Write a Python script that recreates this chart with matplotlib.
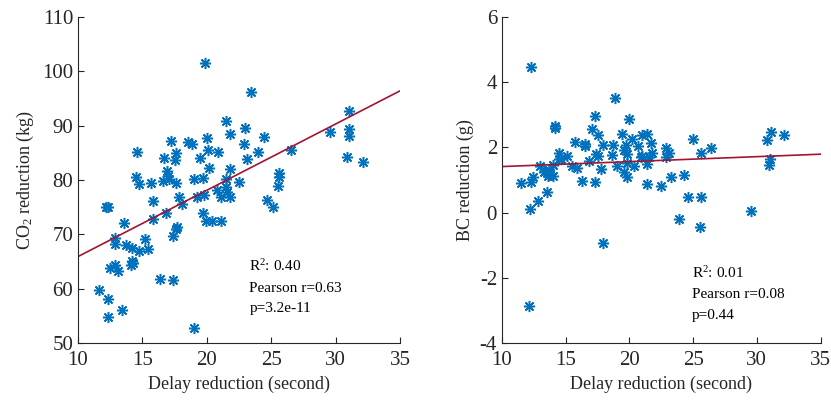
import numpy as np
import matplotlib
matplotlib.use("Agg")
import matplotlib.pyplot as plt

plt.rcParams['font.family'] = ['Liberation Serif', 'DejaVu Serif']
plt.rcParams['mathtext.fontset'] = 'custom'
plt.rcParams['mathtext.rm'] = 'Liberation Serif'
plt.rcParams['mathtext.it'] = 'Liberation Serif:italic'
plt.rcParams['axes.unicode_minus'] = False

# CO2 panel: delay reduction (s) vs CO2 reduction (kg)
delay_co2 = [19.86, 23.4, 31.0, 21.5, 23.0, 31.0, 29.6, 21.8, 24.4, 20.0,
             17.2, 31.0, 18.5, 18.85, 22.9, 26.5, 20.1, 14.6, 20.9, 24.0,
             17.6, 16.7, 19.5, 17.5, 23.1, 30.9, 32.1, 20.2, 21.8, 16.9,
             25.6, 17.0, 14.5, 25.6, 19.7, 17.1, 21.5, 19.0, 16.6, 15.7,
             22.5, 14.7, 17.6, 25.5, 21.5, 20.8, 21.6, 19.8, 21.1, 21.8,
             17.85, 19.2, 24.7, 15.8, 18.1, 25.1, 12.3, 12.2, 16.8, 19.7,
             15.8, 19.9, 20.4, 21.1, 13.6, 17.7, 17.6, 17.4, 12.9, 15.2,
             12.9, 13.7, 14.2, 14.7, 15.4, 14.3, 14.1, 12.9, 12.5, 13.1,
             16.4, 17.4, 11.6, 12.3, 13.4, 12.3, 19.0, 14.2]
co2 = [101.5, 96.1, 92.7, 90.9, 89.5, 89.4, 88.8, 88.4, 87.9, 87.7,
       87.2, 88.0, 87.0, 86.7, 86.6, 85.5, 85.5, 85.2, 85.2, 85.2,
       85.0, 84.1, 84.1, 83.7, 83.9, 84.2, 83.3, 82.2, 82.0, 81.6,
       81.3, 80.7, 80.6, 80.6, 80.4, 80.1, 80.2, 80.2, 79.8, 79.5,
       79.6, 79.3, 79.5, 78.9, 78.7, 78.2, 77.8, 77.2, 76.9, 76.9,
       76.9, 76.9, 76.3, 76.1, 75.6, 75.0, 75.1, 75.0, 74.0, 73.9,
       72.8, 72.5, 72.5, 72.5, 72.0, 71.3, 71.0, 69.6, 69.3, 69.1,
       68.2, 68.0, 67.5, 67.0, 67.2, 64.7, 64.3, 64.3, 63.8, 63.2,
       61.8, 61.6, 59.8, 58.1, 56.1, 54.8, 52.8, 65.0]

# BC panel: delay reduction (s) vs BC reduction (g)
delay_bc = [11.5, 12.3, 12.3, 12.4, 12.2, 12.1, 12.8, 13.0, 13.3, 13.7,
            13.6, 14.0, 13.5, 14.0, 14.2, 14.2, 14.5, 14.5, 15.1, 14.6,
            15.5, 15.9, 15.7, 16.5, 16.5, 16.3, 16.85, 17.1, 17.3, 17.3,
            17.4, 17.5, 17.5, 17.8, 17.9, 17.9, 18.6, 18.7, 18.9, 19.0,
            19.4, 19.6, 19.8, 19.6, 19.8, 19.7, 20.0, 20.2, 20.4, 20.7,
            20.9, 21.0, 21.0, 21.4, 21.4, 21.4, 21.5, 21.7, 21.75, 22.5,
            22.9, 23.1, 22.85, 23.3, 23.9, 24.3, 24.6, 25.0, 25.6, 25.6,
            25.5, 26.4, 29.55, 30.8, 30.95, 31.0, 31.1, 32.1, 19.8, 13.7]
bc = [0.90, 4.45, 0.93, 1.08, 0.10, -2.87, 0.35, 1.42, 1.23, 1.23,
      1.12, 1.12, 0.62, 1.47, 2.64, 2.58, 1.84, 1.65, 1.73, 1.63,
      1.42, 1.36, 2.15, 2.09, 2.03, 0.96, 1.58, 2.57, 2.96, 0.93,
      1.81, 1.72, 2.37, 1.35, 2.06, -0.94, 1.75, 2.06, 3.50, 1.42,
      2.40, 1.91, 1.81, 1.23, 1.08, 2.06, 2.86, 2.27, 1.42, 2.03,
      1.69, 2.37, 1.72, 2.40, 1.48, 0.87, 1.69, 2.12, 1.84, 0.80,
      1.99, 1.84, 1.69, 1.08, -0.20, 1.15, 0.47, 2.26, 1.82, 0.47,
      -0.45, 1.97, 0.04, 2.22, 1.45, 1.63, 2.46, 2.39, 1.53, 1.32]

# fitted lines (value at x=10 and x=35)
fit_x = [10, 35]
fit_co2 = [65.9, 96.4]
fit_bc = [1.41, 1.79]

stats_co2 = "R$^2$: 0.40\nPearson r=0.63\np=3.2e-11"
stats_bc = "R$^2$: 0.01\nPearson r=0.08\np=0.44"

blue = '#0072BD'
red = '#A2142F'
tick_col = '#262626'
asterisk = (8, 2, 0)  # MATLAB style '*' marker

fig = plt.figure(figsize=(8.31, 4.03), dpi=100)
ax1 = fig.add_axes([0.0939, 0.149, 0.3875, 0.809])
ax2 = fig.add_axes([0.604, 0.149, 0.3835, 0.809])


def style(ax):
    ax.spines['top'].set_visible(False)
    ax.spines['right'].set_visible(False)
    for s in ('left', 'bottom'):
        ax.spines[s].set_color(tick_col)
        ax.spines[s].set_linewidth(0.8)
    ax.tick_params(direction='in', length=4, width=0.8, colors=tick_col,
                   labelsize=15)
    ax.tick_params(axis='x', pad=6)
    ax.set_xlim(10, 35)
    ax.set_xticks([10, 15, 20, 25, 30, 35])
    ax.set_xlabel('Delay reduction (second)', fontsize=13, color=tick_col,
                  labelpad=4)


ax1.plot(delay_co2, co2, linestyle='none', marker=asterisk, color=blue,
         markersize=8, markeredgewidth=1.1)
ax1.plot(fit_x, fit_co2, '-', color=red, linewidth=1.2)
style(ax1)
ax1.set_ylim(50, 110)
ax1.set_yticks(np.arange(50, 111, 10))
ax1.set_ylabel(r'CO$_\mathregular{2}$ reduction (kg)', fontsize=13,
               color=tick_col)
ax1.text(23.3, 65.6, stats_co2, fontsize=11, va='top', ha='left',
         linespacing=1.75)

ax2.plot(delay_bc, bc, linestyle='none', marker=asterisk, color=blue,
         markersize=8, markeredgewidth=1.1)
ax2.plot(fit_x, fit_bc, '-', color=red, linewidth=1.2)
style(ax2)
ax2.set_ylim(-4, 6)
ax2.set_yticks([-4, -2, 0, 2, 4, 6])
ax2.set_ylabel('BC reduction (g)', fontsize=13, color=tick_col)
ax2.text(24.9, -1.6, stats_bc, fontsize=11, va='top', ha='left',
         linespacing=1.75)

fig.savefig('out.png', dpi=100)
